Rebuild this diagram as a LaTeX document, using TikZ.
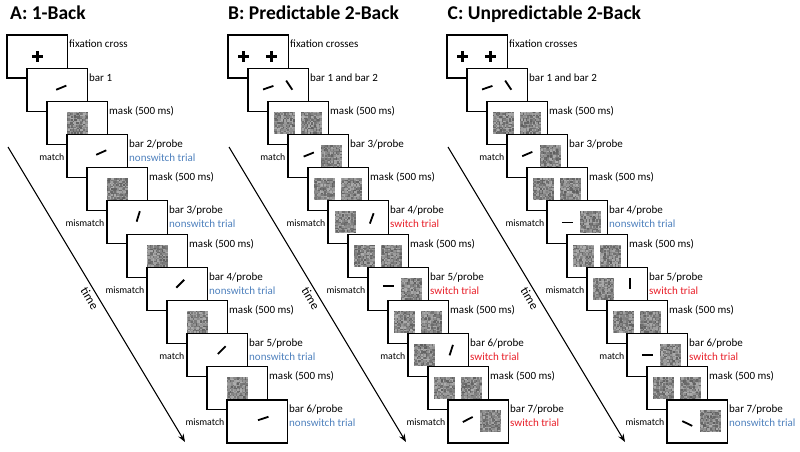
\documentclass[tikz,border=0pt]{standalone}
\usepackage{fontspec}
\setmainfont{Carlito}
\usetikzlibrary{calc,arrows.meta}
\definecolor{nsblue}{RGB}{79,129,189}
\definecolor{swred}{RGB}{232,30,40}
\definecolor{maskgray}{RGB}{135,135,135}
\tikzset{
  frame/.style={draw=black,line width=1.1pt,fill=white,minimum width=60.5pt,minimum height=43pt,inner sep=0pt,outer sep=0pt,anchor=north west},
  barline/.style={line width=1.8pt,line cap=butt},
  plusline/.style={line width=3.2pt},
  rlab/.style={anchor=base west,inner sep=0pt,font=\fontsize{11}{13}\selectfont},
  llab/.style={anchor=base east,inner sep=0pt,font=\fontsize{9.8}{11}\selectfont},
  ttl/.style={anchor=base west,inner sep=0pt,font=\bfseries\fontsize{19.5}{22}\selectfont},
  timearrow/.style={line width=1.1pt,-{Stealth[length=8pt,width=6pt]}},
  timelab/.style={font=\fontsize{12.5}{14}\selectfont,inner sep=1pt},
}
\newcommand\mkframes[2]{\foreach \i in {1,...,12}{\node[frame] (#1\i) at ({#2+20*(\i-1)},{35+33.18*(\i-1)}) {};}}
\newcommand\plusat[2]{\draw[plusline] ($(#1.center)+(#2-5.5,0)$) -- ++(11,0); \draw[plusline] ($(#1.center)+(#2,-5.5)$) -- ++(0,11);}
\newcommand\barat[4]{\draw[barline] ($(#1.center)+(#2,#3)+({-5.5*cos(#4)},{5.5*sin(#4)})$) -- ($(#1.center)+(#2,#3)+({5.5*cos(#4)},{-5.5*sin(#4)})$);}
\newcommand\maskat[2]{%
  \fill[maskgray] ($(#1.center)+(#2-10.5,-11)$) coordinate (mk) rectangle ++(21,22);
  \begin{scope}[shift={(mk)}]
  \foreach \u in {0,...,13}{\foreach \v in {0,...,14}{%
    \pgfmathsetmacro\g{int(random(95,175))}%
    \fill[fill={rgb,255:red,\g;green,\g;blue,\g}] (\u*1.5,\v*1.4667) rectangle ++(1.5,1.4667);
  }}
  \end{scope}}
\newcommand\twomask[1]{\maskat{#1}{-14}\maskat{#1}{13}}
\newcommand\lblR[2]{\node[rlab] (#1-r1) at ($(#1.north east)+(1.5,13)$) {#2};}
\newcommand\lblT[3]{\node[rlab,text=#2] (#1-r2) at ($(#1.north east)+(1.5,27)$) {#3};}
\newcommand\lblL[2]{\node[llab] (#1-l) at ($(#1.north west)+(-2.5,26)$) {#2};}
\begin{document}
\begin{tikzpicture}[x=1pt,y=-1pt]
\pgfmathsetseed{42}
\useasboundingbox (0,0) rectangle (800,452);
% titles
\node[ttl] (tA) at (10,20) {A: 1-Back};
\node[ttl] (tB) at (228,20) {B: Predictable 2-Back};
\node[ttl] (tC) at (447.5,20) {C: Unpredictable 2-Back};
% time arrows
\coordinate (A-s) at (8,147);   \coordinate (A-e) at (185,442);
\coordinate (B-s) at (229,147); \coordinate (B-e) at (406,442);
\coordinate (C-s) at (448,147); \coordinate (C-e) at (625,442);
\draw[timearrow] (A-s) -- node[timelab,sloped,below=2pt] (A-time) {time} (A-e);
\draw[timearrow] (B-s) -- node[timelab,sloped,below=2pt] (B-time) {time} (B-e);
\draw[timearrow] (C-s) -- node[timelab,sloped,below=2pt] (C-time) {time} (C-e);
% frames
\mkframes{A}{7}
\mkframes{B}{228}
\mkframes{C}{447}
% ---- panel A
\plusat{A1}{0}
\barat{A2}{4}{-2}{22}
\maskat{A3}{0}
\barat{A4}{4}{-3.5}{24}
\maskat{A5}{0}
\barat{A6}{1}{-6}{73}
\maskat{A7}{0}
\barat{A8}{3}{-5}{45}
\maskat{A9}{0}
\barat{A10}{4.5}{-5}{45}
\maskat{A11}{0}
\barat{A12}{6}{-3}{18}
\lblR{A1}{fixation cross}
\lblR{A2}{bar 1}
\lblR{A3}{mask (500 ms)}
\lblR{A4}{bar 2/probe}\lblT{A4}{nsblue}{nonswitch trial}
\lblR{A5}{mask (500 ms)}
\lblR{A6}{bar 3/probe}\lblT{A6}{nsblue}{nonswitch trial}
\lblR{A7}{mask (500 ms)}
\lblR{A8}{bar 4/probe}\lblT{A8}{nsblue}{nonswitch trial}
\lblR{A9}{mask (500 ms)}
\lblR{A10}{bar 5/probe}\lblT{A10}{nsblue}{nonswitch trial}
\lblR{A11}{mask (500 ms)}
\lblR{A12}{bar 6/probe}\lblT{A12}{nsblue}{nonswitch trial}
\lblL{A4}{match}\lblL{A6}{mismatch}\lblL{A8}{mismatch}\lblL{A10}{match}\lblL{A12}{mismatch}
% ---- panel B
\plusat{B1}{-14.5}\plusat{B1}{13}
\barat{B2}{-10}{-2}{19}\barat{B2}{11}{-4.5}{-56}
\twomask{B3}
\barat{B4}{-9.5}{-1.5}{22}\maskat{B4}{13}
\twomask{B5}
\maskat{B6}{-13}\barat{B6}{13.5}{-4}{70}
\twomask{B7}
\barat{B8}{-10}{-3}{0}\maskat{B8}{13}
\twomask{B9}
\maskat{B10}{-14}\barat{B10}{13}{-5}{72}
\twomask{B11}
\barat{B12}{-10.5}{-2}{27}\maskat{B12}{12.5}
\lblR{B1}{fixation crosses}
\lblR{B2}{bar 1 and bar 2}
\lblR{B3}{mask (500 ms)}
\lblR{B4}{bar 3/probe}
\lblR{B5}{mask (500 ms)}
\lblR{B6}{bar 4/probe}\lblT{B6}{swred}{switch trial}
\lblR{B7}{mask (500 ms)}
\lblR{B8}{bar 5/probe}\lblT{B8}{swred}{switch trial}
\lblR{B9}{mask (500 ms)}
\lblR{B10}{bar 6/probe}\lblT{B10}{swred}{switch trial}
\lblR{B11}{mask (500 ms)}
\lblR{B12}{bar 7/probe}\lblT{B12}{swred}{switch trial}
\lblL{B4}{match}\lblL{B6}{mismatch}\lblL{B8}{mismatch}\lblL{B10}{match}\lblL{B12}{mismatch}
% ---- panel C
\plusat{C1}{-14.5}\plusat{C1}{13}
\barat{C2}{-10}{-2}{19}\barat{C2}{11}{-4.5}{-56}
\twomask{C3}
\barat{C4}{-10}{-2}{23}\maskat{C4}{13}
\twomask{C5}
\barat{C6}{-10}{0}{0}\maskat{C6}{13}
\twomask{C7}
\maskat{C8}{-13.5}\barat{C8}{13}{-5.5}{90}
\twomask{C9}
\barat{C10}{-10}{0}{0}\maskat{C10}{13}
\twomask{C11}
\barat{C12}{-10}{2}{-26}\maskat{C12}{13}
\lblR{C1}{fixation crosses}
\lblR{C2}{bar 1 and bar 2}
\lblR{C3}{mask (500 ms)}
\lblR{C4}{bar 3/probe}
\lblR{C5}{mask (500 ms)}
\lblR{C6}{bar 4/probe}\lblT{C6}{nsblue}{nonswitch trial}
\lblR{C7}{mask (500 ms)}
\lblR{C8}{bar 5/probe}\lblT{C8}{swred}{switch trial}
\lblR{C9}{mask (500 ms)}
\lblR{C10}{bar 6/probe}\lblT{C10}{swred}{switch trial}
\lblR{C11}{mask (500 ms)}
\lblR{C12}{bar 7/probe}\lblT{C12}{nsblue}{nonswitch trial}
\lblL{C4}{match}\lblL{C6}{mismatch}\lblL{C8}{mismatch}\lblL{C10}{match}\lblL{C12}{mismatch}
\end{tikzpicture}
\end{document}
